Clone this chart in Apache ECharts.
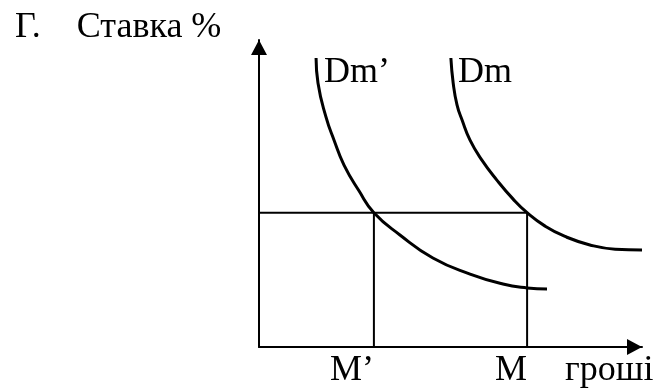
<!DOCTYPE html>
<html>
<head>
<meta charset="utf-8">
<script src="https://cdn.jsdelivr.net/npm/echarts@6/dist/echarts.min.js"></script>
<style>
html, body { margin: 0; padding: 0; background: #fff; }
#chart { width: 667px; height: 390px; }
</style>
</head>
<body>
<div id="chart"></div>
<script>
// рівновага на ринку грошей
var rate = 35;
var moneyTicks = [30, 70];
var moneyTickLabels = ['M’', 'M'];
var curveNames = ['Dm’', 'Dm'];
// попит на гроші після зсуву (Dm’) та початковий (Dm)
var dmShifted = [[14.9, 75.3], [15.4, 68.8], [17.5, 59.9], [19.6, 53.9], [22.2, 47.4], [26.1, 40.7], [30, 35],
    [36.8, 29.2], [45.4, 23.2], [55.1, 19], [63.7, 16.4], [70, 15.4], [75.2, 15.1]];
var dmBase = [[50.1, 75.3], [50.7, 68.8], [51.7, 63.1], [53, 59.2], [55.1, 53.9], [58.2, 48.7], [62.1, 43.5], [66.3, 38.6],
    [70, 35], [74.7, 31.5], [79.9, 28.8], [86.4, 26.6], [93, 25.5], [100, 25.3]];

var serif = 'Liberation Serif';
var fs = 36;

var myChart = echarts.init(document.getElementById('chart'));

function straight(data) {
    return {
        type: 'line',
        data: data,
        symbol: 'none',
        lineStyle: { color: '#000', width: 2 },
        silent: true
    };
}
function curve(data) {
    return {
        type: 'line',
        data: data,
        symbol: 'none',
        smooth: 0.5,
        clip: false,
        lineStyle: { color: '#000', width: 3 },
        silent: true
    };
}

var option = {
    animation: false,
    backgroundColor: '#fff',
    grid: { left: 259, right: 25, top: 40, bottom: 43 },
    xAxis: {
        type: 'value',
        min: 0,
        max: 100,
        axisLine: {
            show: true,
            symbol: ['none', 'triangle'],
            symbolSize: [16, 15],
            symbolOffset: [0, -7.5],
            lineStyle: { color: '#000', width: 2 }
        },
        axisTick: { show: false },
        splitLine: { show: false },
        axisLabel: {
            customValues: moneyTicks,
            formatter: function (v) {
                return moneyTickLabels[moneyTicks.indexOf(v)];
            },
            align: 'right',
            margin: 6,
            color: '#000',
            fontFamily: serif,
            fontSize: fs
        }
    },
    yAxis: {
        type: 'value',
        min: 0,
        max: 80,
        axisLine: {
            show: true,
            symbol: ['none', 'triangle'],
            symbolSize: [16, 15],
            symbolOffset: [0, -7.5],
            lineStyle: { color: '#000', width: 2 }
        },
        axisTick: { show: false },
        splitLine: { show: false },
        axisLabel: { show: false }
    },
    graphic: [
        { type: 'text', left: 15, top: 10, style: { text: 'Г.    Ставка %', font: fs + 'px ' + serif, fill: '#000' } },
        { type: 'text', left: 324, top: 55, style: { text: curveNames[0], font: fs + 'px ' + serif, fill: '#000' } },
        { type: 'text', left: 458, top: 55, style: { text: curveNames[1], font: fs + 'px ' + serif, fill: '#000' } },
        { type: 'text', left: 565, top: 353, style: { text: 'гроші', font: fs + 'px ' + serif, fill: '#000' } }
    ],
    series: [
        straight([[0, rate], [moneyTicks[1], rate]]),
        straight([[moneyTicks[0], 0], [moneyTicks[0], rate]]),
        straight([[moneyTicks[1], 0], [moneyTicks[1], rate]]),
        curve(dmShifted),
        curve(dmBase)
    ]
};
myChart.setOption(option);
</script>
</body>
</html>
